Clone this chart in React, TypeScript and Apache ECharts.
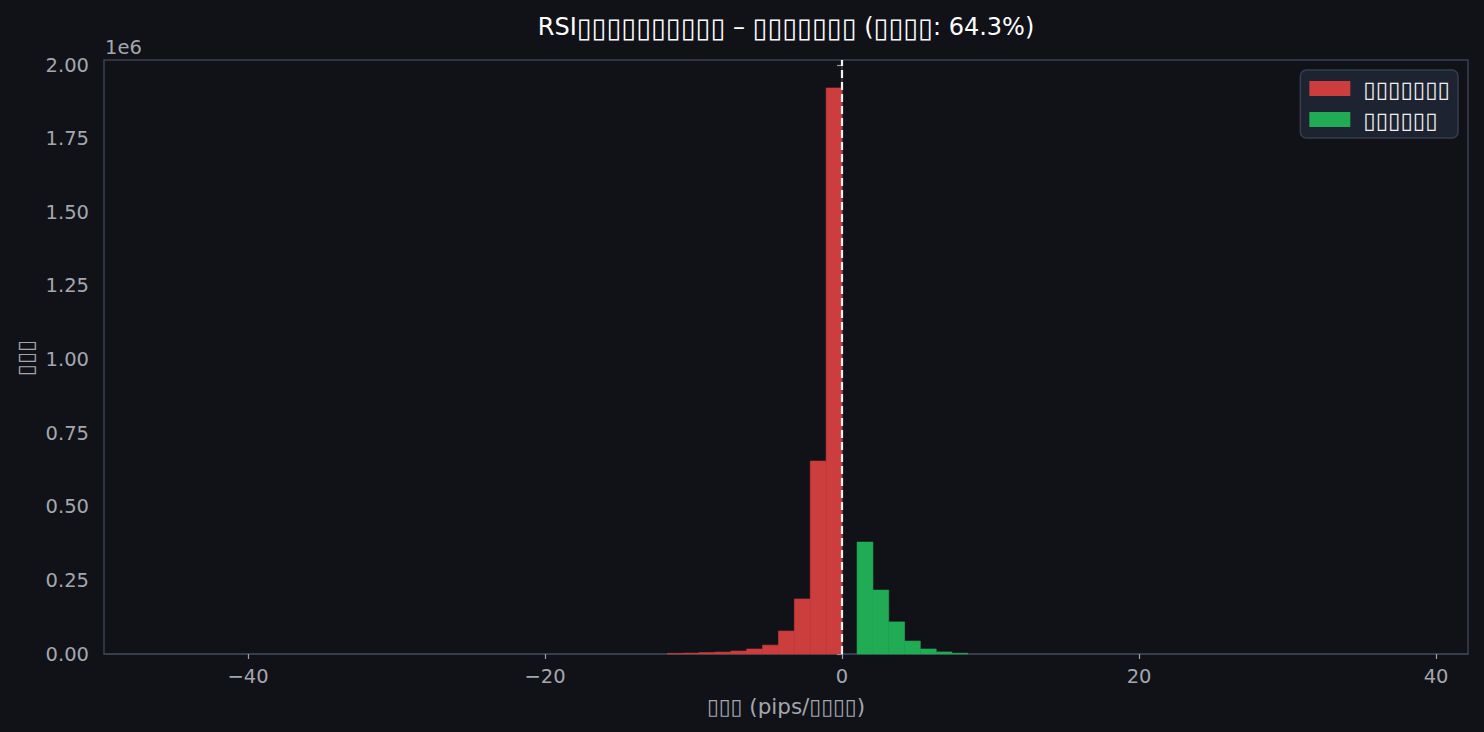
import React, { useEffect, useRef } from "react";
import * as echarts from "echarts";

// Histogram of losing trades (bin edges in pips, counts)
const lossEdges = [-11.77, -10.7, -9.63, -8.56, -7.49, -6.42, -5.35, -4.28, -3.21, -2.14, -1.07, 0];
const lossCounts = [2000, 3000, 5000, 6500, 10000, 17000, 30000, 78000, 187000, 655000, 1922000];

// Histogram of winning trades
const winEdges = [1.01, 2.08, 3.14, 4.21, 5.27, 6.34, 7.4, 8.47];
const winCounts = [380000, 217000, 109000, 44000, 17000, 7000, 2500];

const xTicks = [-40, -20, 0, 20, 40];
const yTicks = [0, 250000, 500000, 750000, 1000000, 1250000, 1500000, 1750000, 2000000];

const titleText = "RSI{b|▯▯▯▯▯▯▯▯▯▯} – {b|▯▯▯▯▯▯▯} ({b|▯▯▯▯}: 64.3%)";
const lossName = "▯▯▯▯▯▯▯";
const winName = "▯▯▯▯▯▯";
const xName = "▯▯▯ (pips/▯▯▯▯)";
const yName = "▯▯▯";

const toBins = (edges: number[], counts: number[]) =>
  counts.map((c, i) => [edges[i], edges[i + 1], c]);

const FONT = "DejaVu Sans";
const GRAY = "#a3a7af";

export default function App() {
  const ref = useRef<HTMLDivElement>(null);
  useEffect(() => {
    if (!ref.current) return;
    const chart = echarts.init(ref.current, null, { renderer: "svg" });
    const makeRender = (color: string) => (params: any, api: any) => {
      const x0 = api.value(0);
      const x1 = api.value(1);
      const y = api.value(2);
      const p0 = api.coord([x0, y]);
      const p1 = api.coord([x1, 0]);
      return {
        type: "rect",
        shape: { x: p0[0], y: p0[1], width: p1[0] - p0[0], height: p1[1] - p0[1] },
        style: { fill: color, stroke: color, lineWidth: 0.6 },
      };
    };
    const red = "#cc3d3d";
    const green = "#21ab55";
    chart.setOption({
      animation: false,
      backgroundColor: "#111217",
      textStyle: { fontFamily: FONT },
      grid: {
        left: 104,
        right: 16,
        top: 60,
        bottom: 78,
        show: true,
        borderColor: "#3a4050",
        borderWidth: 1.5,
        backgroundColor: "transparent",
      },
      legend: {
        orient: "vertical",
        right: 26,
        top: 70,
        align: "left",
        backgroundColor: "#1d2331",
        borderColor: "#363e4e",
        borderWidth: 1.5,
        borderRadius: 6,
        padding: [7, 8, 7, 9],
        itemWidth: 41,
        itemHeight: 15,
        itemGap: 8,
        icon: "rect",
        textStyle: { color: "#eeeeee", fontSize: 22.5, fontFamily: FONT, padding: [0, 0, 0, 8] },
        data: [lossName, winName],
      },
      xAxis: {
        type: "value",
        min: -49.7,
        max: 42.15,
        splitLine: { show: false },
        axisLine: { show: true, onZero: false, lineStyle: { color: "#3a4050", width: 1.5 } },
        axisTick: { show: true, length: 5, customValues: xTicks, lineStyle: { color: "#9aa0a8", width: 1.2 } },
        axisLabel: {
          customValues: xTicks,
          color: GRAY,
          fontSize: 19.5,
          margin: 12,
          fontFamily: FONT,
          formatter: (v: number) => (v < 0 ? "\u2212" + Math.abs(v) : String(v)),
        },
      },
      yAxis: {
        type: "value",
        min: 0,
        max: 2017000,
        splitLine: { show: false },
        axisLine: { show: true, lineStyle: { color: "#3a4050", width: 1.5 } },
        axisTick: { show: true, length: 5, customValues: yTicks, lineStyle: { color: "#9aa0a8", width: 1.2 } },
        axisLabel: {
          customValues: yTicks,
          color: GRAY,
          fontSize: 19.5,
          margin: 15,
          fontFamily: FONT,
          formatter: (v: number) => (v / 1e6).toFixed(2),
        },
      },
      graphic: [
        {
          type: "text",
          x: 786,
          y: 27,
          style: {
            text: titleText,
            fill: "#ffffff",
            fontFamily: FONT,
            fontSize: 24,
            align: "center",
            verticalAlign: "middle",
            rich: {
              b: { fontSize: 27, fontFamily: FONT, fill: "#ffffff" },
            },
          },
        },
        {
          type: "text",
          x: 786,
          y: 706,
          style: {
            text: xName,
            fill: GRAY,
            font: `21.5px "${FONT}"`,
            align: "center",
            verticalAlign: "middle",
          },
        },
        {
          type: "text",
          x: 25,
          y: 358,
          rotation: Math.PI / 2,
          style: {
            text: yName,
            fill: GRAY,
            font: `22px "${FONT}"`,
            align: "center",
            verticalAlign: "middle",
          },
        },
        {
          type: "text",
          x: 105,
          y: 47,
          style: {
            text: "1e6",
            fill: GRAY,
            font: `19.5px "${FONT}"`,
            align: "left",
            verticalAlign: "middle",
          },
        },
      ],
      series: [
        {
          name: lossName,
          type: "custom",
          renderItem: makeRender(red),
          itemStyle: { color: red },
          encode: { x: [0, 1], y: 2 },
          data: toBins(lossEdges, lossCounts),
          markLine: {
            silent: true,
            symbol: "none",
            label: { show: false },
            lineStyle: { color: "#f2f2f2", type: [8, 4], width: 2.2 },
            data: [{ xAxis: 0 }],
          },
          z: 2,
        },
        {
          name: winName,
          type: "custom",
          renderItem: makeRender(green),
          itemStyle: { color: green },
          encode: { x: [0, 1], y: 2 },
          data: toBins(winEdges, winCounts),
          z: 2,
        },
      ],
    });
    return () => chart.dispose();
  }, []);
  return (
    <div
      ref={ref}
      style={{ position: "fixed", left: 0, top: 0, width: 1484, height: 732 }}
    />
  );
}
